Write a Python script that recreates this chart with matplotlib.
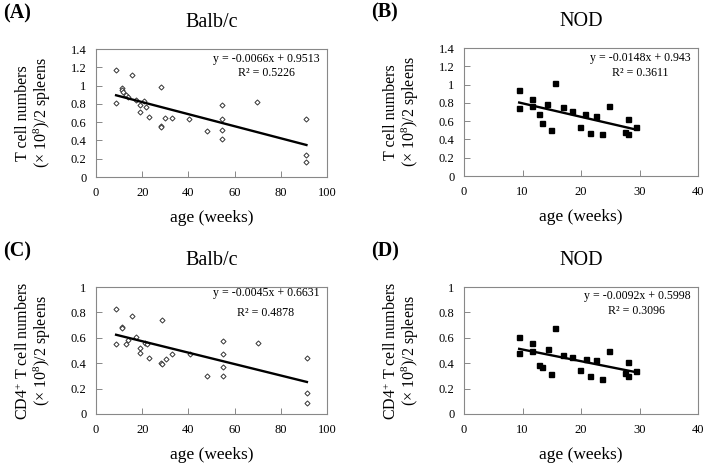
import matplotlib
matplotlib.use('Agg')
import matplotlib.pyplot as plt
import numpy as np

plt.rcParams['font.family'] = ['Liberation Serif', 'DejaVu Serif']
plt.rcParams['mathtext.fontset'] = 'custom'
plt.rcParams['mathtext.rm'] = 'Liberation Serif'
plt.rcParams['mathtext.it'] = 'Liberation Serif:italic'

# (A) Balb/c, T cells
balb_t_x = [8.7, 8.7, 11.4, 11.4, 11.5, 12.8, 14.0, 15.4, 17.3, 19.0, 19.0, 20.8, 21.6, 23.1,
            28.1, 28.1, 28.1, 29.9, 32.8, 40.4, 47.9, 54.7, 54.7, 54.7, 54.7, 69.6, 91.1, 91.1, 91.1]
balb_t_y = [1.17, 0.807, 0.97, 0.953, 0.935, 0.898, 0.88, 1.12, 0.844, 0.785, 0.709, 0.829, 0.771, 0.651,
            0.98, 0.556, 0.545, 0.64, 0.64, 0.629, 0.498, 0.789, 0.636, 0.513, 0.418, 0.815, 0.636, 0.244, 0.164]

# (B) NOD, T cells
nod_t_x = [9.43, 9.43, 11.6, 11.6, 12.86, 13.3, 14.2, 14.86, 15.6, 16.86, 18.46, 19.83, 20.7, 21.6,
           22.57, 23.54, 24.86, 27.54, 28.0, 28.0, 29.43]
nod_t_y = [0.937, 0.744, 0.846, 0.762, 0.682, 0.58, 0.791, 0.50, 1.02, 0.755, 0.715, 0.536, 0.682, 0.474,
           0.66, 0.459, 0.762, 0.478, 0.627, 0.463, 0.536]

# (C) Balb/c, CD4+ T cells
balb_cd4_x = [8.7, 8.7, 11.4, 11.4, 13.0, 14.0, 15.4, 17.3, 19.0, 19.0, 21.2, 21.9, 23.1, 28.4, 28.1, 28.4,
              30.2, 32.8, 40.7, 48.2, 55.0, 55.0, 55.0, 55.0, 70.0, 91.3, 91.3, 91.3]
balb_cd4_y = [0.825, 0.553, 0.687, 0.674, 0.553, 0.582, 0.77, 0.603, 0.522, 0.478, 0.556, 0.551, 0.444, 0.739,
              0.40, 0.394, 0.436, 0.47, 0.47, 0.30, 0.577, 0.47, 0.373, 0.30, 0.561, 0.441, 0.164, 0.086]

# (D) NOD, CD4+ T cells
nod_cd4_x = [9.43, 9.43, 11.6, 11.6, 12.86, 13.3, 14.3, 14.86, 15.6, 16.97, 18.46, 19.83, 20.8, 21.6,
             22.57, 23.54, 24.86, 27.54, 28.0, 28.0, 29.43]
nod_cd4_y = [0.606, 0.483, 0.556, 0.493, 0.386, 0.373, 0.514, 0.316, 0.679, 0.465, 0.446, 0.35, 0.431, 0.30,
             0.428, 0.274, 0.499, 0.326, 0.41, 0.30, 0.339]

# trend lines (slope, intercept, R2) as printed
fits = {'A': (-0.0066, 0.9513, '0.5226'),
        'B': (-0.0148, 0.943, '0.3611'),
        'C': (-0.0045, 0.6631, '0.4878'),
        'D': (-0.0092, 0.5998, '0.3096')}

W, H = 708, 466
fig = plt.figure(figsize=(W / 100, H / 100), dpi=100)


def px_axes(x0, y0, x1, y1):
    return fig.add_axes([x0 / W, 1 - y1 / H, (x1 - x0) / W, (y1 - y0) / H])


t_label = 'T cell numbers\n(\u00d7 10$^{8}$)/2 spleens'
cd4_label = 'CD4$^{+}$ T cell numbers\n(\u00d7 10$^{8}$)/2 spleens'

panels = [
    # key, box, x, y, xmax, ymax, title, ylabel, marker, eq positions
    ('A', (96, 49, 327, 177), balb_t_x, balb_t_y, 100, 1.4, 'Balb/c', t_label, 'D',
     (0.736, 0.922, 0.812)),
    ('B', (464, 48, 698, 176), nod_t_x, nod_t_y, 40, 1.4, 'NOD', t_label, 's',
     (0.752, 0.924, 0.807)),
    ('C', (96, 287, 327, 414), balb_cd4_x, balb_cd4_y, 100, 1.0, 'Balb/c', cd4_label, 'D',
     (0.736, 0.953, 0.795)),
    ('D', (464, 287, 698, 414), nod_cd4_x, nod_cd4_y, 40, 1.0, 'NOD', cd4_label, 's',
     (0.739, 0.929, 0.811)),
]

for key, box, xs, ys, xmax, ymax, title, ylab, mk, eqpos in panels:
    ax = px_axes(*box)
    if mk == 'D':
        ax.plot(xs, ys, linestyle='none', marker='D', markersize=2.6,
                markerfacecolor='white', markeredgecolor='#333333', markeredgewidth=0.7)
    else:
        ax.plot(xs, ys, linestyle='none', marker='s', markersize=3.6,
                markerfacecolor='black', markeredgecolor='black')
    m, b, r2 = fits[key]
    lx = np.array([min(xs), max(xs)])
    ax.plot(lx, m * lx + b, color='black', linewidth=1.7)

    ax.set_xlim(0, xmax)
    ax.set_ylim(0, ymax)
    ax.set_xticks(np.arange(0, xmax + 1, 20 if xmax == 100 else 10))
    ax.set_yticks(np.round(np.arange(0, ymax + 0.01, 0.2), 1))
    ax.yaxis.set_major_formatter(plt.FuncFormatter(lambda v, p: f'{v:g}'))
    ax.tick_params(direction='in', length=4, width=0.7, color='#888888',
                   labelsize=9, pad=7)
    for s in ax.spines.values():
        s.set_color('#888888')
        s.set_linewidth(0.8)

    ax.set_xlabel('age (weeks)', fontsize=12.5, labelpad=8)
    ax.set_title(title, fontsize=14.5, pad=16)

    ex, ey1, ey2 = eqpos
    ax.text(ex, ey1, f'y = {m:g}x + {b:g}', transform=ax.transAxes,
            ha='center', va='center', fontsize=8.6)
    ax.text(ex, ey2, f'R\u00b2 = {r2}', transform=ax.transAxes,
            ha='center', va='center', fontsize=8.6)

    x0, y0, x1, y1 = box
    fig.text((x0 - 62) / W, 1 - (y0 + y1) / 2 / H, ylab, rotation=90,
             ha='center', va='center', fontsize=11.5, linespacing=1.0,
             multialignment='center')
    fig.text((x0 - 93) / W, 1 - (y0 - 36) / H, f'({key})', fontsize=14.5,
             fontweight='bold', ha='left', va='center')

fig.savefig('out.png', dpi=100)
